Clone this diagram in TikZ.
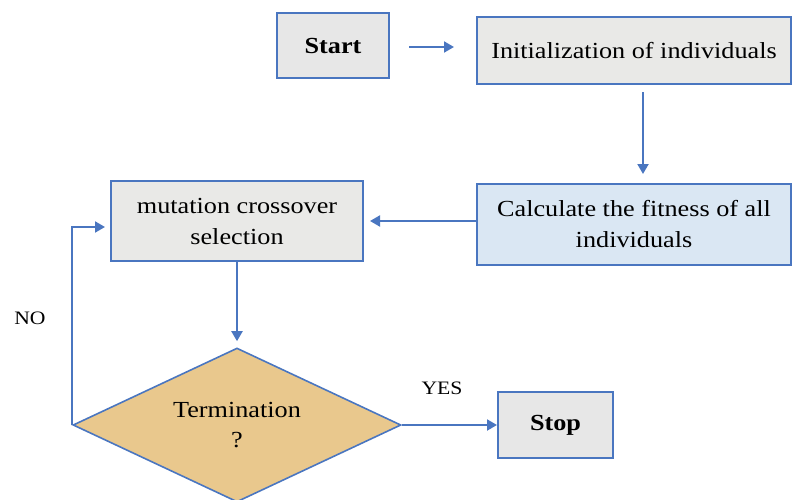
\documentclass[tikz,border=0pt]{standalone}
\usepackage{fontspec}
\setmainfont{Liberation Serif}[FakeStretch=1.14]
\usetikzlibrary{shapes.geometric,arrows.meta}
\definecolor{bblue}{HTML}{4A76C0}
\definecolor{boxgrey}{HTML}{E7E7E7}
\definecolor{texgrey}{HTML}{E9E9E7}
\definecolor{lblue}{HTML}{DAE7F3}
\definecolor{tan}{HTML}{E9C88D}
\tikzset{
  box/.style={draw=bblue, line width=2pt, rectangle, inner sep=2pt, align=center, font=\fontsize{23}{31}\selectfont},
  decision/.style={draw=bblue, line width=1.6pt, diamond, shape aspect=2.1, fill=tan, inner sep=0pt, align=center, font=\fontsize{23}{30}\selectfont},
  conn/.style={draw=bblue, line width=2pt, -{Triangle[length=10pt,width=11pt]}},
  lbl/.style={font=\fontsize{19}{22}\selectfont, inner sep=0pt}
}
\begin{document}
\begin{tikzpicture}[x=1pt,y=-1pt]
\useasboundingbox (0,0) rectangle (792,500);
\node[box, fill=boxgrey, minimum width=112pt, minimum height=65pt, font=\fontsize{23}{30}\selectfont\bfseries] (start) at (333,46) {Start};
\node[box, fill=texgrey, minimum width=314pt, minimum height=67pt] (init) at (634,51) {Initialization of individuals};
\node[box, fill=lblue, minimum width=314pt, minimum height=81pt] (calc) at (634,224.5) {Calculate the fitness of all\\individuals};
\node[box, fill=texgrey, minimum width=252pt, minimum height=80pt] (mut) at (237,221) {mutation crossover\\selection};
\node[decision, minimum width=328pt, minimum height=154pt] (term) at (237,425) {Termination\\?};
\node[box, fill=boxgrey, minimum width=115pt, minimum height=66pt, font=\fontsize{23}{30}\selectfont\bfseries] (stop) at (555.5,425) {Stop};
\node[lbl] (yes) at (442,388) {YES};
\node[lbl] (no) at (30,318) {NO};
\coordinate (loopc) at (71,227);
\draw[conn] ([xshift=19pt,yshift=-1pt]start.east) -- ([xshift=-22pt,yshift=4pt]init.west);
\draw[conn] ([xshift=9pt,yshift=-7pt]init.south) -- ([xshift=9pt,yshift=9pt]calc.north);
\draw[conn] ([yshift=3.5pt]calc.west) -- ([xshift=6pt]mut.east);
\draw[conn] (mut.south) -- ([yshift=6pt]term.north);
\draw[conn] (term.east) -- (stop.west);
\draw[conn] (term.west) -- (term.west |- loopc) -- ([xshift=-5pt]mut.west |- loopc);
\end{tikzpicture}
\end{document}
